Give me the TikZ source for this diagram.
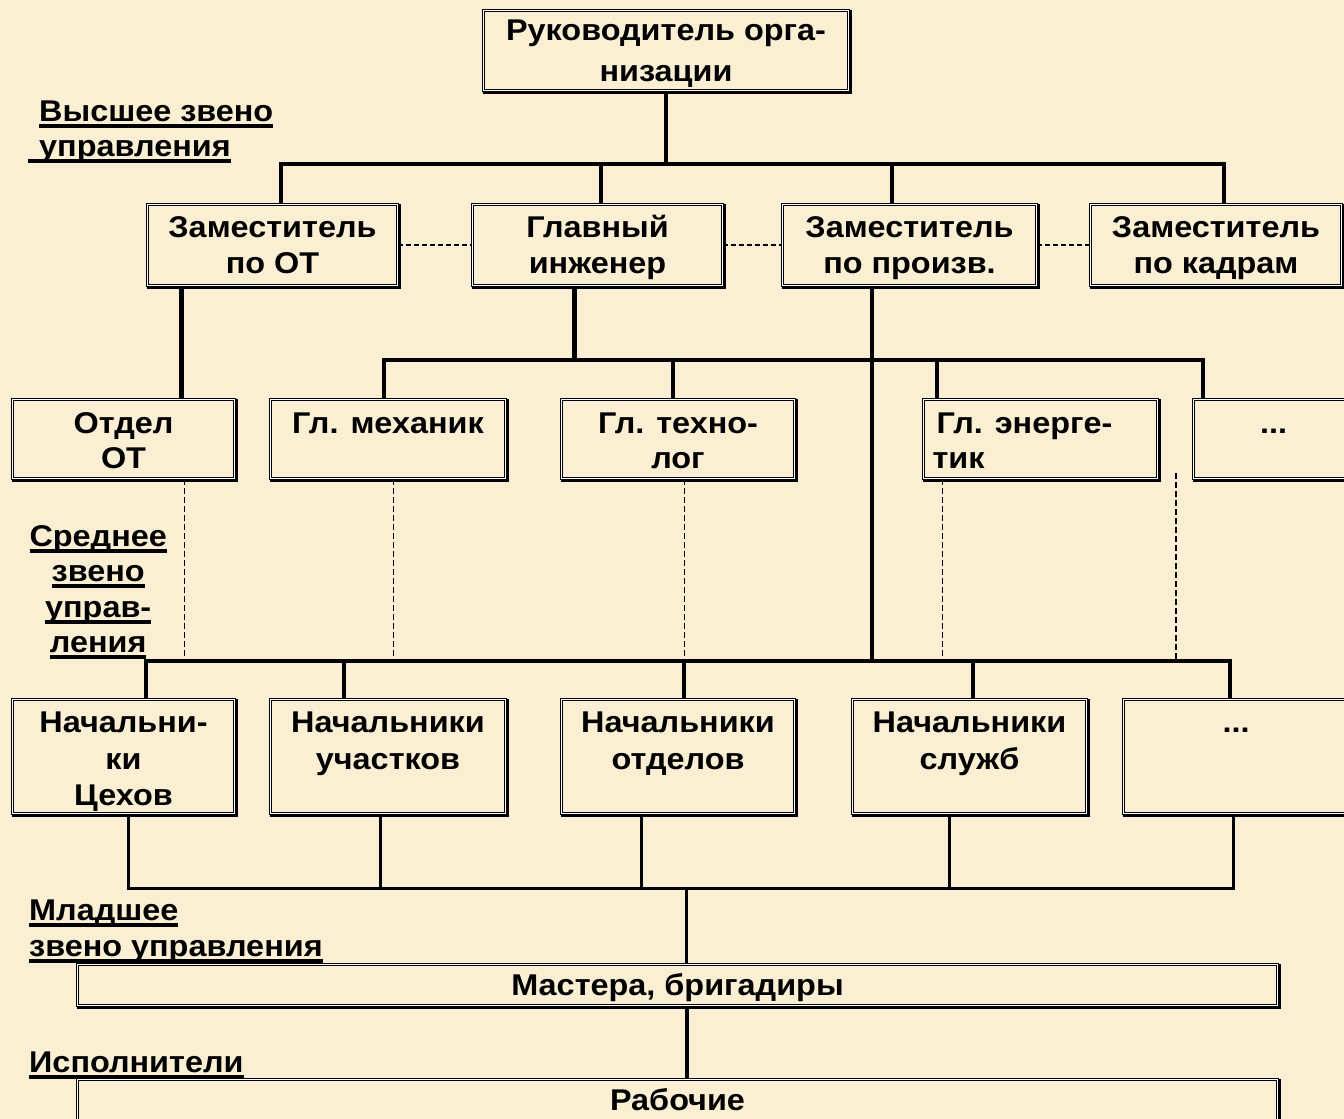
\documentclass[tikz,border=0pt]{standalone}
\usepackage{fontspec}
\setmainfont{Liberation Sans}[FakeStretch=1.08]
\definecolor{bg}{RGB}{250,239,211}
\newsavebox\ulbox
\newcommand\ul[1]{\leavevmode\sbox\ulbox{#1}\rlap{\rule[-6.5pt]{\wd\ulbox}{4pt}}\usebox\ulbox}
\newcommand\bx[5]{\parbox[t][#2pt][t]{#1pt}{\centering\baselineskip=#4pt\rule{0pt}{#3pt}#5}}
\newcommand\lb[4]{\parbox[t]{#1pt}{\baselineskip=#3pt\rule{0pt}{#2pt}#4}}
\tikzset{
  box/.style={draw, double, double distance=1.8pt, line width=1pt, inner sep=0pt, anchor=north west},
  lbl/.style={inner sep=0pt, anchor=north west},
  thk/.style={line width=4pt, line join=miter},
  thkk/.style={line width=5pt},
  thn/.style={line width=3pt, line join=miter},
  dots/.style={line width=2.5pt, dash pattern=on 5pt off 3pt},
  dsh/.style={line width=1.3pt, dash pattern=on 6pt off 3pt},
}
\begin{document}
\begin{tikzpicture}[x=1pt,y=-1pt, font=\bfseries\fontsize{30}{36}\selectfont]
\fill[bg] (0,0) rectangle (1344,1119);
\useasboundingbox (0,0) rectangle (1344,1119);

% boxes
\node[box] (top) at (483,10) {\bx{365}{80}{30}{41}{Руководитель орга-\\низации}};
\node[box] (z1) at (147,204) {\bx{250}{81}{33}{36}{Заместитель\\по ОТ}};
\node[box] (z2) at (472,204) {\bx{250}{81}{33}{36}{Главный\\инженер}};
\node[box] (z3) at (782,204) {\bx{254}{81}{33}{36}{Заместитель\\по произв.}};
\node[box] (z4) at (1090,204) {\bx{251}{81}{33}{36}{Заместитель\\по кадрам}};

\node[box] (o1) at (12,399) {\bx{222}{79}{34}{35}{Отдел\\ОТ}};
\node[box] (o2) at (270,399) {\bx{235}{79}{34}{35}{Гл. механик}};
\node[box] (o3) at (561,399) {\bx{233}{79}{34}{35}{Гл. техно-\\лог}};
\node[box] (o4) at (923,399) {\bx{234}{79}{34}{35}{\raggedright\hspace*{13pt}Гл. энерге-\\\hspace*{9pt}тик}};
\node[box] (o5) at (1193,399) {\bx{160}{79}{34}{35}{...}};

\node[box] (n1) at (12,699) {\bx{222}{114}{33}{36.5}{Начальни-\\ки\\Цехов}};
\node[box] (n2) at (270,699) {\bx{235}{114}{33}{36.5}{Начальники\\участков}};
\node[box] (n3) at (561,699) {\bx{233}{114}{33}{36.5}{Начальники\\отделов}};
\node[box] (n4) at (852,699) {\bx{234}{114}{33}{36.5}{Начальники\\служб}};
\node[box] (n5) at (1123,699) {\bx{225}{114}{33}{36.5}{...}};

\node[box] (m) at (77,964) {\bx{1200}{41}{31}{36}{Мастера, бригадиры}};
\node[box] (r) at (77,1079) {\bx{1200}{60}{31}{36}{Рабочие}};

% heavier bottom/right edges
\foreach \n in {top,z1,z2,z3,z4,o1,o2,o3,o4,o5,n1,n2,n3,n4,n5,m,r}
  \draw[line width=2pt] ([xshift=2pt]\n.north east) -- ([xshift=2pt,yshift=-2pt]\n.south east) -- ([yshift=-2pt]\n.south west);

% labels
\node[lbl] (l1) at (28,90) {\lb{300}{31}{35}{\raggedright\hspace*{11pt}\ul{Высшее звено}\\\ul{\hspace*{11pt}управления}}};
\node[lbl] (l2) at (23,515) {\lb{150}{31}{35.5}{\centering\ul{Среднее}\\\ul{звено}\\\ul{управ-}\\\ul{ления}}};
\node[lbl] (l3) at (29,889) {\lb{340}{31}{36}{\raggedright\ul{Младшее}\\\ul{звено управления}}};
\node[lbl] (l4) at (29,1041) {\lb{300}{31}{36}{\raggedright\ul{Исполнители}}};

% bus coordinates
\coordinate (b1) at (0,164);
\coordinate (b2) at (0,360);
\coordinate (b3) at (0,661);
\coordinate (b4) at (0,888);

% top level
\coordinate (d1) at ([xshift=8.5pt]z1.north);
\coordinate (d2) at ([xshift=3pt]z2.north);
\coordinate (d3) at ([xshift=-18pt]z3.north);
\coordinate (d4) at ([xshift=7.5pt]z4.north);
\draw[thk] (top.south) -- (top.south |- b1);
\draw[thk] (d1) -- (d1 |- b1) -- (d4 |- b1) -- (d4);
\draw[thk] (d2) -- (d2 |- b1);
\draw[thk] (d3) -- (d3 |- b1);

% dotted links between deputies
\draw[dots] (z1.east) -- (z2.west);
\draw[dots] (z2.east) -- (z3.west);
\draw[dots] (z3.east) -- (z4.west);

% second level
\coordinate (e1) at ([xshift=-91.5pt]z1.south);
\coordinate (e2) at ([xshift=-23pt]z2.south);
\coordinate (e3) at ([xshift=-38pt]z3.south);
\draw[thkk] (e1) -- (e1 |- o1.north);
\draw[thkk] (e2) -- (e2 |- b2);
\draw[thk] (e3) -- (e3 |- b3);

\coordinate (f2) at ([xshift=-4.5pt]o2.north);
\coordinate (f3) at ([xshift=-5pt]o3.north);
\coordinate (f4) at ([xshift=-104pt]o4.north);
\coordinate (f5) at ([xshift=-71pt]o5.north);
\draw[thk] (f2) -- (f2 |- b2) -- (f5 |- b2) -- (f5);
\draw[thk] (f3) -- (f3 |- b2);
\draw[thk] (f4) -- (f4 |- b2);

% dashed functional links
\coordinate (g1) at ([xshift=61pt]o1.south);
\coordinate (g2) at ([xshift=5.5pt]o2.south);
\coordinate (g3) at ([xshift=6.5pt]o3.south);
\coordinate (g4) at ([xshift=-98pt]o4.south);
\coordinate (g5) at (1176,473);
\foreach \g in {g1,g2,g3,g4,g5} \draw[dsh] (\g) -- (\g |- b3);

% third level
\coordinate (h1) at ([xshift=22pt]n1.north);
\coordinate (h2) at ([xshift=-44.5pt]n2.north);
\coordinate (h3) at ([xshift=5.5pt]n3.north);
\coordinate (h4) at ([xshift=3pt]n4.north);
\coordinate (h5) at ([xshift=-6pt]n5.north);
\draw[thk] (h1) -- (h1 |- b3) -- (h5 |- b3) -- (h5);
\foreach \h in {h2,h3,h4} \draw[thk] (\h) -- (\h |- b3);

% bottom
\coordinate (k1) at ([xshift=5pt]n1.south);
\coordinate (k2) at ([xshift=-7.5pt]n2.south);
\coordinate (k3) at ([xshift=-36.5pt]n3.south);
\coordinate (k4) at ([xshift=-20pt]n4.south);
\coordinate (k5) at ([xshift=-3pt]n5.south);
\draw[thn] (k1) -- (k1 |- b4) -- (k5 |- b4) -- (k5);
\foreach \k in {k2,k3,k4} \draw[thn] (\k) -- (\k |- b4);
\coordinate (m1) at ([xshift=9pt]m.north);
\coordinate (m2) at ([xshift=9pt]m.south);
\draw[thn] (m1) -- (m1 |- b4);
\draw[thk] (m2) -- (m2 |- r.north);
\end{tikzpicture}
\end{document}
